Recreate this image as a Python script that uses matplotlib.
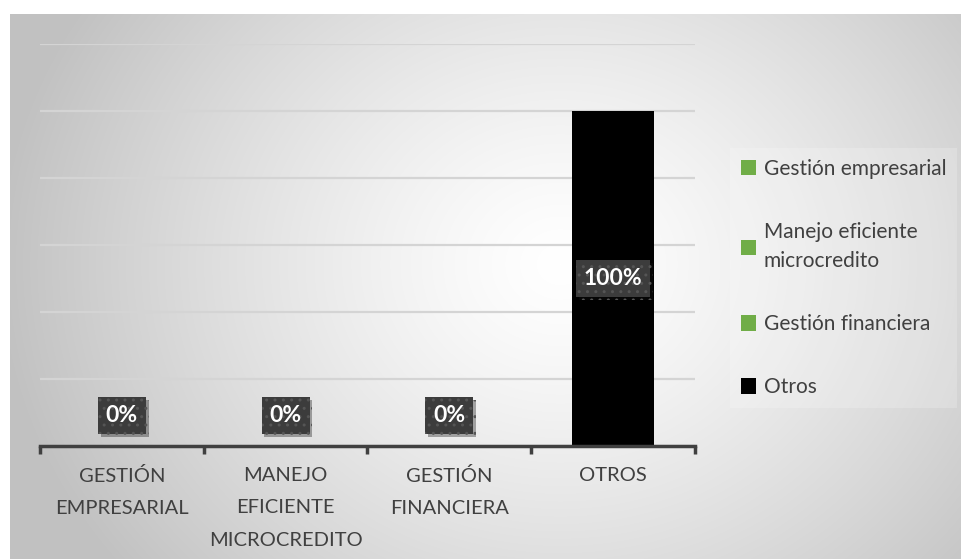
import matplotlib.pyplot as plt
import matplotlib.patheffects as pe
import numpy as np

# Data
categorias = ['GESTIÓN\nEMPRESARIAL', 'MANEJO\nEFICIENTE\nMICROCREDITO', 'GESTIÓN\nFINANCIERA', 'OTROS']
series = ['Gestión empresarial', 'Manejo eficiente\nmicrocredito', 'Gestión financiera', 'Otros']
valores = [0.0, 0.0, 0.0, 1.0]
colores = ['#70AD47', '#70AD47', '#70AD47', '#000000']

plt.rcParams['font.family'] = ['Lato', 'DejaVu Sans']
texto = '#404040'

fig = plt.figure(figsize=(9.62, 5.59), dpi=100)

# Gradient background of the chart area
bg = fig.add_axes([10 / 962, 0, 952 / 962, 545 / 559], zorder=-10)
h, w = 545, 952
yy, xx = np.mgrid[0:h, 0:w]
r = np.sqrt((xx - 550) ** 2 + ((yy - 250) * 1.15) ** 2)
v = np.clip(1.0 - 0.24 * (r / 560.0) ** 1.3, 0.76, 1.0)
bg.imshow(np.dstack([v, v, v]), aspect='auto', extent=[0, 1, 0, 1], origin='upper')
bg.set_axis_off()

ax = fig.add_axes([40 / 962, (559 - 446) / 559, 655 / 962, 402 / 559])
ax.patch.set_alpha(0)
x = np.arange(len(categorias))
for i in range(len(series)):
    ax.bar(x[i], valores[i], width=0.5, color=colores[i], label=series[i], zorder=3)

ax.set_xlim(-0.5, len(categorias) - 0.5)
ax.set_ylim(0, 1.2)
ax.set_yticks(np.arange(0, 1.21, 0.2))
ax.yaxis.grid(True, color='#d4d4d4', lw=1.6, zorder=0)
ax.tick_params(axis='y', left=False, labelleft=False)
for s in ['top', 'right', 'left']:
    ax.spines[s].set_visible(False)
ax.spines['bottom'].set_color(texto)
ax.spines['bottom'].set_linewidth(2.5)
ax.spines['bottom'].set_zorder(5)

ax.set_xticks(x)
ax.set_xticklabels(categorias, fontsize=14.5, color=texto, linespacing=2.1)
ax.tick_params(axis='x', length=0, pad=15)
ax.set_xticks(np.arange(-0.5, len(categorias), 1), minor=True)
ax.tick_params(axis='x', which='minor', length=6, width=2.5, color=texto, direction='out')

# Data labels
for i, v in enumerate(valores):
    yy_lab = 0.09 if v == 0 else v / 2
    t = ax.text(x[i], yy_lab, f'{v:.0%}', ha='center', va='center', fontsize=16.5, fontweight='bold',
                color='white', zorder=6,
                bbox=dict(boxstyle='square,pad=0.35', fc='#3c3c3c', ec='#555555', lw=0, hatch='..'))
    t.get_bbox_patch().set_path_effects([pe.SimplePatchShadow(offset=(2, -2), alpha=0.35), pe.Normal()])

leg = fig.legend(loc='upper left', bbox_to_anchor=(720 / 962, (559 - 138) / 559), fontsize=15,
                 labelcolor=texto, handlelength=0.75, handleheight=0.75, handletextpad=0.35,
                 labelspacing=2.07, borderpad=0.5, fancybox=False, facecolor='white',
                 framealpha=0.2, edgecolor='none')
for t in leg.get_texts():
    t.set_linespacing(1.57)

fig.savefig('out.png', dpi=100)
